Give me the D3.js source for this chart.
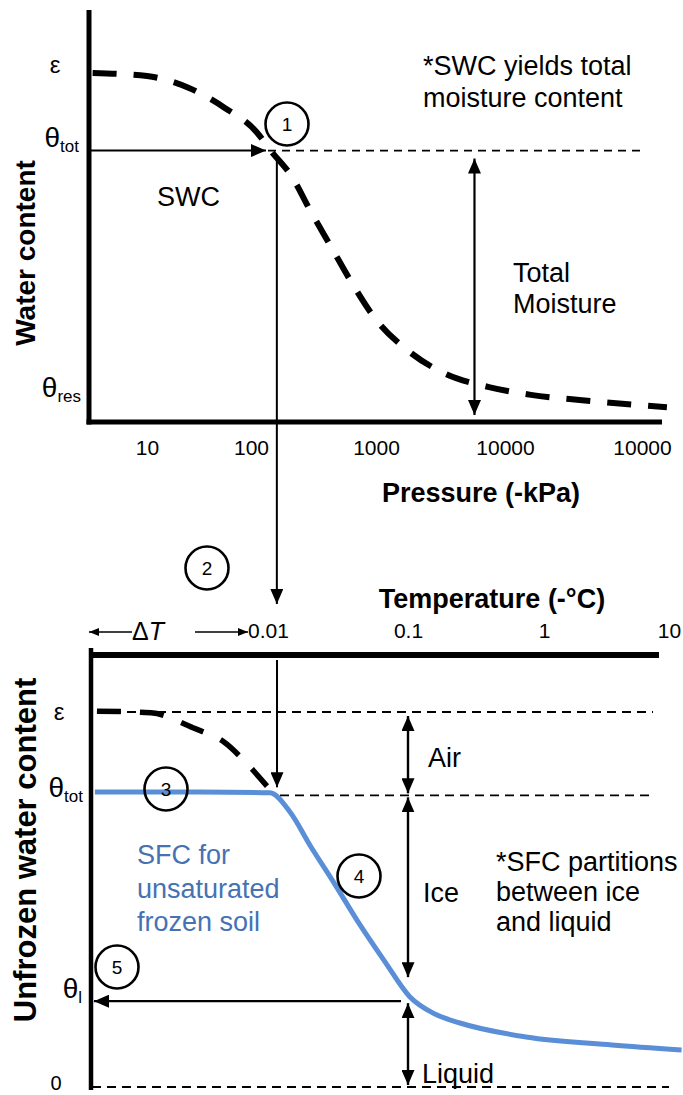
<!DOCTYPE html>
<html>
<head>
<meta charset="utf-8">
<script src="https://cdn.jsdelivr.net/npm/d3@7"></script>
<style>
  html, body { margin: 0; padding: 0; background: #fff; }
  svg { display: block; font-family: "Liberation Sans", Arial, sans-serif; }
  .tick text { font-family: "Liberation Sans", Arial, sans-serif; }
</style>
</head>
<body>
<div id="chart"></div>
<script>
// tick values and labels (last pressure label is "10000" in the original)
var pressureTicks = [10, 100, 1000, 10000, 100000];
var pressureLabels = ['10', '100', '1000', '10000', '10000'];
var tempTicks = [0.01, 0.1, 1, 10];
var tempLabels = ['0.01', '0.1', '1', '10'];

// soil water characteristic curve (pressure kPa, water content)
var swcPressure = [3, 10, 25, 56, 112, 142, 213, 297, 437, 643, 1000, 1738, 3365, 7516, 15480, 36500, 152000];
var swcTheta = [0.45, 0.446, 0.431, 0.405, 0.373, 0.351, 0.316, 0.273, 0.226, 0.179, 0.132, 0.093, 0.063, 0.045, 0.035, 0.028, 0.019];

// saturated part of the freezing curve (dashed, bottom)
var satTemp = [0.0006, 0.00146, 0.00291, 0.00485, 0.00744, 0.00984];
var satTheta = [0.451, 0.449, 0.431, 0.414, 0.384, 0.361];

// soil freezing curve for unsaturated frozen soil
var sfcTemp = [0.00058, 0.00327, 0.01033, 0.01436, 0.0203, 0.0296, 0.0433, 0.0674, 0.1034, 0.158, 0.241, 0.738, 3.49, 12.6];
var sfcTheta = [0.354, 0.354, 0.353, 0.330, 0.288, 0.245, 0.200, 0.152, 0.108, 0.0875, 0.0768, 0.060, 0.0504, 0.0444];

// levels and key points
var thetaEps = 0.45, thetaTot = 0.35, thetaRes = 0.03, thetaLiq = 0.103;
var pAirEntry = 161, pMoistArrow = 5800;
var tFreeze = 0.0116, tPartition = 0.1;

var W = 683, H = 1095;
var blueLine = '#5a8fd8', blueText = '#4672b4';

var svg = d3.select('#chart').append('svg')
  .attr('width', W).attr('height', H);

var defs = svg.append('defs');
var addMarker = function(id, len, wid) {
  defs.append('marker')
    .attr('id', id)
    .attr('viewBox', '0 0 ' + len + ' ' + wid)
    .attr('refX', len).attr('refY', wid / 2)
    .attr('markerUnits', 'userSpaceOnUse')
    .attr('markerWidth', len).attr('markerHeight', wid)
    .attr('orient', 'auto-start-reverse')
    .append('path')
    .attr('d', 'M0,0L' + len + ',' + (wid / 2) + 'L0,' + wid + 'Z')
    .attr('fill', '#000');
};
addMarker('arr', 15, 13);
addMarker('arrS', 10, 8);

// scales
var xP = d3.scaleLog().domain(pressureTicks).range([147, 251, 376, 505, 642]);
var yW = d3.scaleLinear().domain([0, thetaEps]).range([422, 73]);
var xT = d3.scaleLog().domain(tempTicks).range([268, 408, 544, 669]);
var yU = d3.scaleLinear().domain([0, thetaEps]).range([1087, 712]);

var line = function(a, b, c, d, w, dash) {
  var l = svg.append('line').attr('x1', a).attr('y1', b).attr('x2', c).attr('y2', d)
    .attr('stroke', '#000').attr('stroke-width', w);
  if (dash) l.attr('stroke-dasharray', dash);
  return l;
};
var text = function(x, y, s, size, opts) {
  opts = opts || {};
  return svg.append('text').attr('x', x).attr('y', y).text(s)
    .attr('font-size', size)
    .attr('font-weight', opts.bold ? 'bold' : null)
    .attr('fill', opts.fill || '#000')
    .attr('text-anchor', opts.anchor || 'start');
};
var subLabel = function(x, y, main, sub, anchor) {
  var t = svg.append('text').attr('x', x).attr('y', y)
    .attr('text-anchor', anchor || 'end').attr('font-size', 28);
  t.append('tspan').text(main);
  t.append('tspan').attr('font-size', 17).attr('dy', 5).text(sub);
};
var circleNum = function(cx, cy, n) {
  svg.append('circle').attr('cx', cx).attr('cy', cy).attr('r', 21.5)
    .attr('fill', 'none').attr('stroke', '#000').attr('stroke-width', 2.6);
  text(cx, cy + 7, n, 19, {anchor: 'middle'});
};

// ---------- top panel: SWC ----------
var swc = swcPressure.map(function(p, i) { return [p, swcTheta[i]]; });

line(89, 10, 89, 424.5, 5);
line(86.5, 422, 662, 422, 5);

var topAxis = svg.append('g').attr('transform', 'translate(0,422)')
  .call(d3.axisBottom(xP).tickValues(pressureTicks)
    .tickFormat(function(d, i) { return pressureLabels[i]; })
    .tickSize(0).tickPadding(18));
topAxis.select('.domain').remove();
topAxis.selectAll('text').attr('font-size', 21).attr('fill', '#000');

// thin dashed line at theta_tot
line(268, yW(thetaTot), 642, yW(thetaTot), 1.7, '8,6');

svg.append('path').datum(swc)
  .attr('d', d3.line()
    .x(function(d) { return xP(d[0]); })
    .y(function(d) { return yW(d[1]); })
    .curve(d3.curveMonotoneX))
  .attr('fill', 'none').attr('stroke', '#000')
  .attr('stroke-width', 6).attr('stroke-dasharray', '24,17');

// theta_tot arrow from the axis to the curve
line(91, yW(thetaTot), 266, yW(thetaTot), 2).attr('marker-end', 'url(#arr)');
// connector down to the temperature panel
line(xP(pAirEntry), yW(thetaTot) + 8, xP(pAirEntry), 604, 2).attr('marker-end', 'url(#arr)');
// total moisture double arrow
line(xP(pMoistArrow), yW(thetaTot) + 8, xP(pMoistArrow), yW(0) - 7, 2.2)
  .attr('marker-start', 'url(#arr)').attr('marker-end', 'url(#arr)');

text(55, 73, 'ε', 24, {anchor: 'middle'});
subLabel(79, yW(thetaTot) - 4, 'θ', 'tot');
subLabel(81, yW(thetaRes) - 2, 'θ', 'res');

text(157, 206, 'SWC', 27);
text(513, 282, 'Total', 27);
text(513, 313, 'Moisture', 27);
text(423, 75, '*SWC yields total', 27);
text(423, 107, 'moisture content', 27);
text(481, 502, 'Pressure (-kPa)', 27, {bold: true, anchor: 'middle'});
svg.append('text').attr('transform', 'translate(35,253) rotate(-90)')
  .attr('text-anchor', 'middle').attr('font-size', 28).attr('font-weight', 'bold')
  .text('Water content');

circleNum(287, 124, '1');
circleNum(207, 568, '2');

// ---------- bottom panel: SFC ----------
var sat = satTemp.map(function(t, i) { return [t, satTheta[i]]; });
var sfc = sfcTemp.map(function(t, i) { return [t, sfcTheta[i]]; });

line(91, 648, 91, 1090, 4.5);
line(92, 655, 659, 655, 6);

var botAxis = svg.append('g').attr('transform', 'translate(0,655)')
  .call(d3.axisTop(xT).tickValues(tempTicks)
    .tickFormat(function(d, i) { return tempLabels[i]; })
    .tickSize(0).tickPadding(17));
botAxis.select('.domain').remove();
botAxis.selectAll('text').attr('font-size', 21).attr('fill', '#000');

text(492, 608, 'Temperature (-°C)', 27, {bold: true, anchor: 'middle'});

// delta T arrows
line(132, 632, 89, 632, 1.6).attr('marker-end', 'url(#arrS)');
line(195, 632, 248, 632, 1.6).attr('marker-end', 'url(#arrS)');
var dT = svg.append('text').attr('x', 132).attr('y', 640).attr('font-size', 25);
dT.append('tspan').text('Δ');
dT.append('tspan').attr('font-style', 'italic').text('T');

// dashed level lines
line(97, yU(thetaEps), 653, yU(thetaEps), 1.8, '9,6');
line(280, yU(thetaTot), 655, yU(thetaTot), 1.8, '9,6');
line(92, yU(0), 669, yU(0), 1.8, '9,6');

svg.append('path').datum(sat)
  .attr('d', d3.line()
    .x(function(d) { return xT(d[0]); })
    .y(function(d) { return yU(d[1]); })
    .curve(d3.curveMonotoneX))
  .attr('fill', 'none').attr('stroke', '#000')
  .attr('stroke-width', 5.5).attr('stroke-dasharray', '24,19');

svg.append('path').datum(sfc)
  .attr('d', d3.line()
    .x(function(d) { return xT(d[0]); })
    .y(function(d) { return yU(d[1]); })
    .curve(d3.curveMonotoneX))
  .attr('fill', 'none').attr('stroke', blueLine)
  .attr('stroke-width', 5);

// connector arrow into the bottom panel
line(xT(tFreeze), 660, xT(tFreeze), yU(thetaTot) - 8, 2).attr('marker-end', 'url(#arr)');

// air / ice / liquid double arrows
var xa = xT(tPartition);
line(xa, yU(thetaEps) + 4, xa, yU(thetaTot) - 2, 2.4)
  .attr('marker-start', 'url(#arr)').attr('marker-end', 'url(#arr)');
line(xa, yU(thetaTot) + 2, xa, yU(thetaLiq) - 24, 2.4)
  .attr('marker-start', 'url(#arr)').attr('marker-end', 'url(#arr)');
line(xa, yU(thetaLiq) + 2, xa, yU(0) - 2, 2.4)
  .attr('marker-start', 'url(#arr)').attr('marker-end', 'url(#arr)');
// theta_l arrow
line(xa - 7, yU(thetaLiq), 94, yU(thetaLiq), 2.4).attr('marker-end', 'url(#arr)');

text(59, 720, 'ε', 24, {anchor: 'middle'});
subLabel(83, yU(thetaTot) + 2, 'θ', 'tot');
subLabel(82, yU(thetaLiq) - 3, 'θ', 'l');
text(56, 1090, '0', 20, {anchor: 'middle'});

text(428, 767, 'Air', 27);
text(423, 902, 'Ice', 27);
text(422, 1083, 'Liquid', 27);
text(496, 871, '*SFC partitions', 27);
text(496, 901, 'between ice', 27);
text(496, 931, 'and liquid', 27);
text(137, 864, 'SFC for', 27, {fill: blueText});
text(137, 898, 'unsaturated', 27, {fill: blueText});
text(137, 931, 'frozen soil', 27, {fill: blueText});

svg.append('text').attr('transform', 'translate(36,850) rotate(-90)')
  .attr('text-anchor', 'middle').attr('font-size', 31).attr('font-weight', 'bold')
  .text('Unfrozen water content');

circleNum(166, 789, '3');
circleNum(359, 876, '4');
circleNum(117, 967, '5');
</script>
</body>
</html>
